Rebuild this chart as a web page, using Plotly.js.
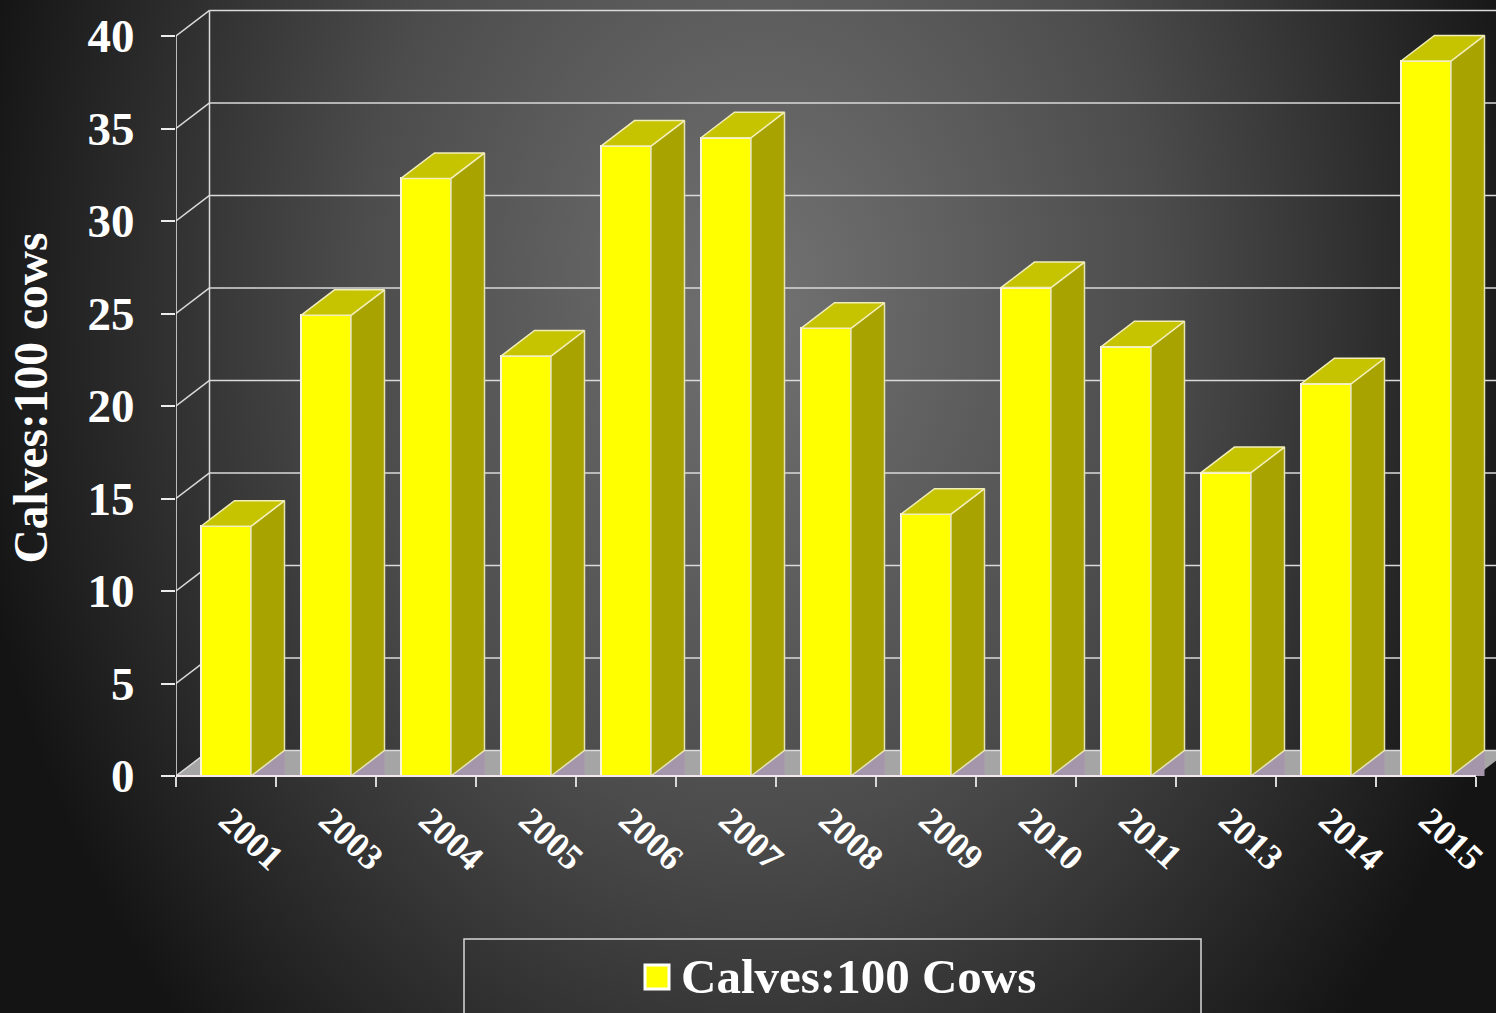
<!DOCTYPE html>
<html>
<head>
<meta charset="utf-8">
<script src="https://cdn.plot.ly/plotly-3.0.1.min.js"></script>
<style>
html,body{margin:0;padding:0;width:1496px;height:1013px;overflow:hidden;background:#111;}
body{background:radial-gradient(ellipse 800px 1050px at 760px 300px,#727272 0%,#4c4c4c 50%,#141414 100%);}
#chart{width:1496px;height:1013px;}
</style>
</head>
<body>
<div id="chart"></div>
<script>
const years = ["2001","2003","2004","2005","2006","2007","2008","2009","2010","2011","2013","2014","2015"];
const calves = [13.5,24.9,32.3,22.7,34.05,34.5,24.2,14.15,26.4,23.2,16.4,21.2,38.65];
const yTicks = [0,5,10,15,20,25,30,35,40];
const seriesName = "Calves:100 Cows";
const yTitle = "Calves:100 cows";

const idx = years.map((_, i) => i);
const barHalf = 0.25, depthX = 0.335, depthY = 1.38;
const pxPerUnit = 18.5, plotH = 796, baseGap = 20;
const xMin = -0.5, xMax = 12.7, yMin = -baseGap / pxPerUnit, yMax = (plotH - baseGap) / pxPerUnit;
const xEnd = years.length - 0.5;

function polys(fn) {
  const xs = [], ys = [];
  idx.forEach(i => {
    fn(i, calves[i]).forEach(p => { xs.push(p[0]); ys.push(p[1]); });
    xs.push(null); ys.push(null);
  });
  return {x: xs, y: ys};
}
const face = (pts, fill, line) => Object.assign({
  type: "scatter", mode: "lines", fill: "toself", fillcolor: fill,
  line: {color: line, width: 1.5}, hoverinfo: "skip", showlegend: false
}, pts);

const lilac = polys(i => {
  const r = i + barHalf;
  return [[r,0],[r+depthX,depthY],[r+depthX,0],[r,0]];
});
const sides = polys((i, v) => {
  const r = i + barHalf;
  return [[r,0],[r+depthX,depthY],[r+depthX,v+depthY],[r,v],[r,0]];
});
const tops = polys((i, v) => {
  const l = i - barHalf, r = i + barHalf;
  return [[l,v],[l+depthX,v+depthY],[r+depthX,v+depthY],[r,v],[l,v]];
});

const data = [
  face(lilac, "#a596ac", "rgba(0,0,0,0)"),
  {type: "bar", name: seriesName, x: idx, y: calves, width: barHalf * 2,
   marker: {color: "#ffff00", line: {color: "#fff6d8", width: 2}}, showlegend: false,
   textposition: "none", hovertemplate: "%{x}: %{y}<extra></extra>"},
  face(sides, "#a9a300", "#e6e4b0"),
  face(tops, "#c6c400", "#f2eeb8")
];

const gridColor = "#dadada";
const shapes = [];
const line = (x0, y0, x1, y1, color, width) => shapes.push({
  type: "line", layer: "below", xref: "x", yref: "y", x0, y0, x1, y1,
  line: {color, width}
});
shapes.push({type: "path", layer: "below", xref: "x", yref: "y",
  path: `M${xMin},0 L${xMin+depthX},${depthY} L${xEnd+depthX},${depthY} L${xEnd},0 Z`,
  fillcolor: "#a6a5a6", line: {width: 0}});
yTicks.forEach(t => {
  line(xMin + depthX, t + depthY, xEnd + depthX, t + depthY, gridColor, 1.5);
  line(xMin, t, xMin + depthX, t + depthY, gridColor, 1.5);
});
line(xMin + depthX, depthY, xMin + depthX, 40 + depthY, gridColor, 1.5);
line(xMin, 0, xMin, 40, "#ececec", 1.5);
shapes.push({type: "line", layer: "above", xref: "x", yref: "y", x0: xMin, y0: 0, x1: xEnd, y1: 0,
  line: {color: "#f4e8f0", width: 2}});
const px = v => (v - 176) / 1320, py = v => (plotH - v) / plotH;
shapes.push({type: "path", layer: "above", xref: "paper", yref: "paper",
  path: `M${px(464)},${py(1020)} L${px(464)},${py(939)} L${px(1201)},${py(939)} L${px(1201)},${py(1020)}`,
  line: {color: "#d8d8d8", width: 1.5}});
shapes.push({type: "rect", layer: "above", xref: "paper", yref: "paper",
  x0: px(645), x1: px(669), y0: py(989), y1: py(965),
  fillcolor: "#ffff00", line: {color: "#ffffff", width: 3}});

const serif = "'Liberation Serif','Times New Roman',serif";
const layout = {
  width: 1496, height: 1013,
  margin: {l: 176, r: 0, t: 0, b: 1013 - plotH, pad: 0},
  paper_bgcolor: "rgba(0,0,0,0)", plot_bgcolor: "rgba(0,0,0,0)",
  showlegend: false, bargap: 0,
  xaxis: {
    type: "linear", range: [xMin, xMax], showgrid: false, zeroline: false, showline: false,
    anchor: "free", position: baseGap / plotH,
    tickmode: "array", tickvals: idx, ticktext: years, tickangle: 43, ticks: "",
    ticklabelstandoff: 15, ticklabelshift: 3,
    tickfont: {family: serif, size: 36, color: "#ffffff", weight: "bold"},
    minor: {tickmode: "array", tickvals: years.concat([""]).map((_, i) => i - 0.5),
      ticks: "outside", ticklen: 10, tickwidth: 1.5, tickcolor: "#d8d8d8", showgrid: false}
  },
  yaxis: {
    range: [yMin, yMax], showgrid: false, zeroline: false, showline: false,
    tickmode: "array", tickvals: yTicks, ticks: "outside", ticklen: 14, tickwidth: 1.5,
    tickcolor: "#ececec", ticklabelstandoff: 17,
    tickfont: {family: serif, size: 47, color: "#ffffff", weight: "bold"},
    title: {text: yTitle, standoff: 24,
      font: {family: serif, size: 47.5, color: "#ffffff", weight: "bold"}}
  },
  shapes,
  annotations: [{
    xref: "paper", yref: "paper", x: px(858), y: py(976), xanchor: "center", yanchor: "middle",
    showarrow: false, text: seriesName,
    font: {family: serif, size: 49, color: "#ffffff", weight: "bold"}
  }]
};
Plotly.newPlot("chart", data, layout, {displayModeBar: false, responsive: false});
</script>
</body>
</html>
